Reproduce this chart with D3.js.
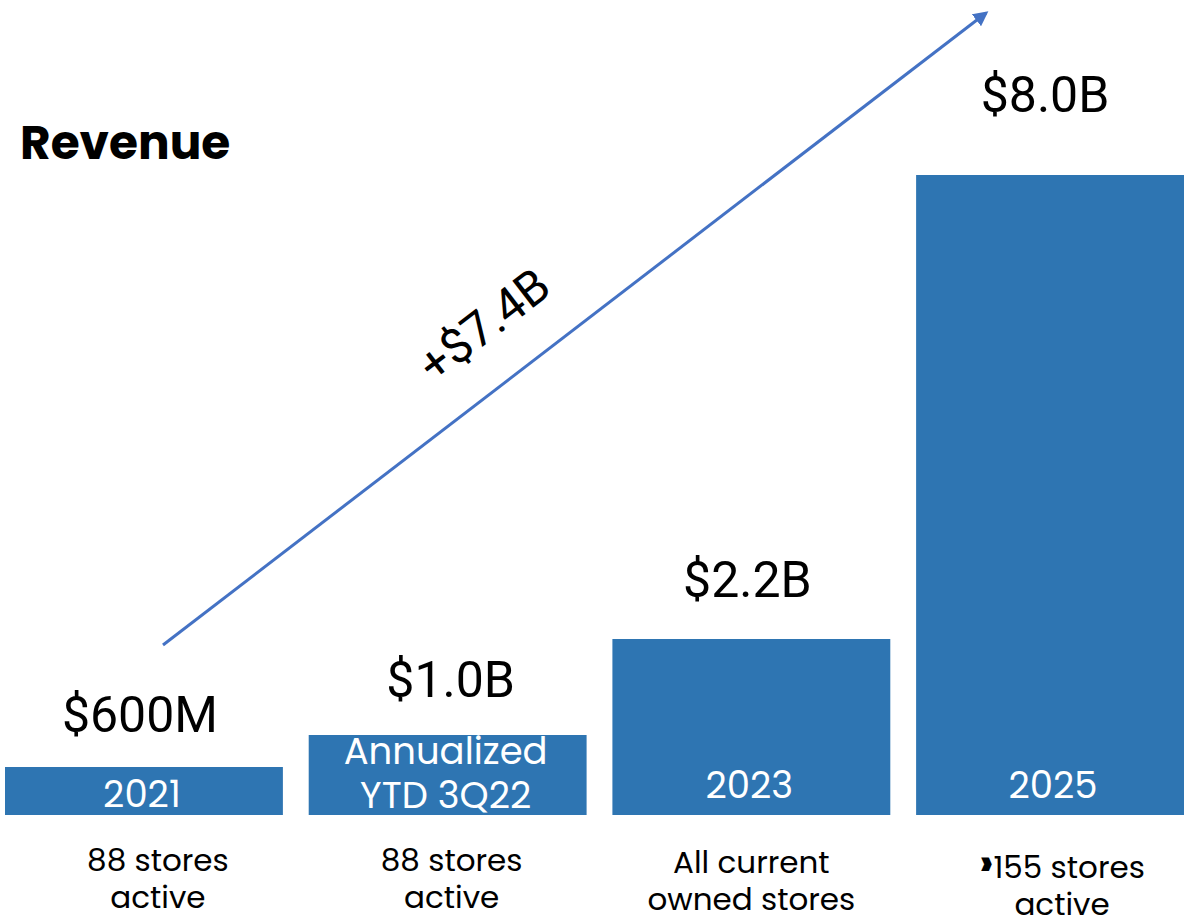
<!DOCTYPE html>
<html>
<head>
<meta charset="utf-8">
<script src="https://cdn.jsdelivr.net/npm/d3@7"></script>
<style>
  body { margin: 0; background: #fff; }
</style>
</head>
<body>
<div id="graph-container"></div>
<script>
// Chart data
var categories = ["2021", "Annualized\nYTD 3Q22", "2023", "2025"];
var revenue = [0.6, 1.0, 2.2, 8.0];
var valueLabels = ["$600M", "$1.0B", "$2.2B", "$8.0B"];
var storeLabels = ["88 stores\nactive", "88 stores\nactive", "All current\nowned stores", "\u203a155 stores\nactive"];
var growthLabel = "+$7.4B";

var svgWidth = 1184;
var svgHeight = 921;

var svg = d3.select("#graph-container")
  .append("svg")
  .attr("width", svgWidth)
  .attr("height", svgHeight);

// Scales
var baseline = 815;
var xScale = d3.scaleBand()
  .domain(categories)
  .range([5, 1194])
  .paddingInner(0.085)
  .paddingOuter(0);

var yScale = d3.scaleLinear()
  .domain([0, 8])
  .range([baseline, 175]);

var bw = xScale.bandwidth();

// Title
svg.append("text")
  .attr("x", 20)
  .attr("y", 159)
  .attr("font-family", "Poppins, Inter, sans-serif")
  .attr("font-weight", "bold")
  .attr("font-size", 47)
  .text("Revenue");

// Bars
svg.selectAll("rect.bar")
  .data(categories)
  .enter()
  .append("rect")
  .attr("class", "bar")
  .attr("x", function (d) { return xScale(d); })
  .attr("y", function (d, i) { return yScale(revenue[i]); })
  .attr("width", bw)
  .attr("height", function (d, i) { return baseline - yScale(revenue[i]); })
  .attr("fill", "#2E75B2");

// Category labels inside bars
categories.forEach(function (c, i) {
  var lines = c.split("\n");
  var cx = xScale(c) + bw / 2 - 2;
  var t = svg.append("text")
    .attr("text-anchor", "middle")
    .attr("font-family", "Poppins, Inter, sans-serif")
    .attr("font-size", 37)
    .attr("fill", "#fff");
  var y0 = lines.length > 1 ? 764 : (revenue[i] < 1 ? 807 : 798);
  lines.forEach(function (l, j) {
    t.append("tspan").attr("x", cx).attr("y", y0 + j * 44).text(l);
  });
});

// Value labels above bars
var labelGap = [35, 38, 42, 63];
var labelShift = [-4, 3, -4, -10];
svg.selectAll("text.value")
  .data(valueLabels)
  .enter()
  .append("text")
  .attr("class", "value")
  .attr("text-anchor", "middle")
  .attr("font-family", "Roboto, Arial, sans-serif")
  .attr("font-size", 50)
  .attr("fill", "#000")
  .attr("x", function (d, i) { return xScale(categories[i]) + bw / 2 + labelShift[i]; })
  .attr("y", function (d, i) { return yScale(revenue[i]) - labelGap[i]; })
  .text(function (d) { return d; });

// Store labels below
storeLabels.forEach(function (s, i) {
  var lines = s.split("\n");
  var cx = xScale(categories[i]) + bw / 2 + (i === 0 ? 14 : i === 1 ? 4 : i === 3 ? 7 : 0);
  var t = svg.append("text")
    .attr("text-anchor", "middle")
    .attr("font-family", "Poppins, Inter, sans-serif")
    .attr("font-size", 31)
    .attr("fill", "#000");
  var y0 = i === 3 ? 878 : (i === 2 ? 873 : 871);
  lines.forEach(function (l, j) {
    var ts = t.append("tspan").attr("x", cx).attr("y", y0 + j * 37);
    if (l.charAt(0) === "\u203a") {
      // bold chevron before the number
      ts.append("tspan")
        .attr("font-weight", "900")
        .attr("font-size", 38)
        .attr("dy", -2)
        .text("\u203a");
      ts.append("tspan").attr("dy", 2).text(l.slice(1));
    } else {
      ts.text(l);
    }
  });
});

// Growth arrow
svg.append("defs").append("marker")
  .attr("id", "arrow")
  .attr("viewBox", "0 0 10 10")
  .attr("refX", 8)
  .attr("refY", 5)
  .attr("markerWidth", 5)
  .attr("markerHeight", 5)
  .attr("orient", "auto")
  .append("path")
  .attr("d", "M0,0 L10,5 L0,10 z")
  .attr("fill", "#4472C4");

svg.append("line")
  .attr("x1", 163)
  .attr("y1", 645)
  .attr("x2", 986)
  .attr("y2", 13)
  .attr("stroke", "#4472C4")
  .attr("stroke-width", 3)
  .attr("marker-end", "url(#arrow)");

svg.append("text")
  .attr("text-anchor", "middle")
  .attr("font-family", "Roboto, Arial, sans-serif")
  .attr("font-size", 48)
  .attr("transform", "translate(494,338) rotate(-37.5)")
  .text(growthLabel);
</script>
</body>
</html>
